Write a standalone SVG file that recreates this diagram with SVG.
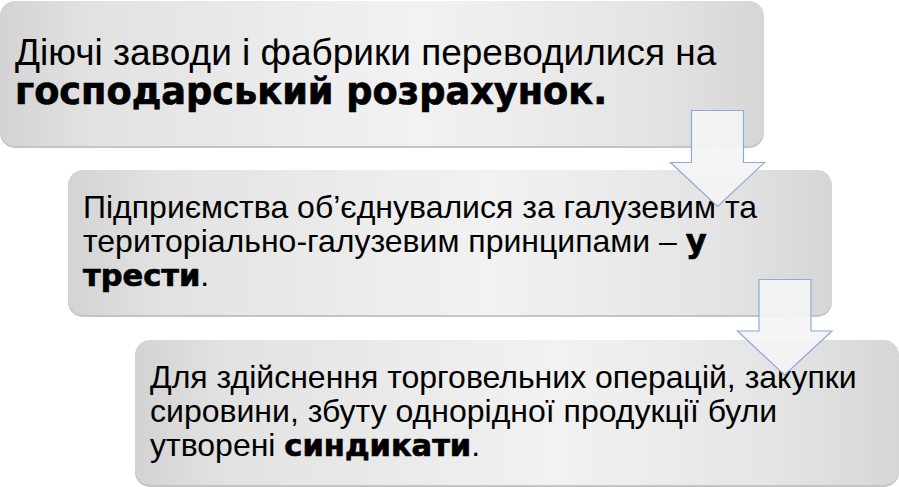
<svg xmlns="http://www.w3.org/2000/svg" width="899" height="487" viewBox="0 0 899 487">
<defs>
<linearGradient id="g" x1="0" y1="0" x2="1" y2="0">
<stop offset="0" stop-color="#d3d3d3"/>
<stop offset="0.12" stop-color="#e2e2e2"/>
<stop offset="0.55" stop-color="#f2f2f2"/>
<stop offset="0.85" stop-color="#e4e4e4"/>
<stop offset="1" stop-color="#d6d6d6"/>
</linearGradient>
<style>
.box{fill:url(#g)}
.sh{fill:#c4c4c4}
.t{font-family:"Liberation Sans",Arial,sans-serif;fill:#000}
.b{font-family:"DejaVu Sans","Liberation Sans",sans-serif;font-weight:bold;stroke:#000;stroke-width:0.7}
.arr{fill:#f4f4f4;fill-opacity:0.92;stroke:#8eaad6;stroke-width:1.2;stroke-linejoin:miter}
</style>
</defs>
<g id="node1">
<rect class="sh" x="0" y="3" width="764" height="145" rx="15"/>
<rect class="box" x="0" y="1" width="764" height="145" rx="15"/>
<text class="t" x="15" y="65" font-size="37">Діючі заводи і фабрики переводилися на</text>
<text class="t b" x="15" y="104" font-size="36.7">господарський розрахунок.</text>
</g>
<g id="node2">
<rect class="sh" x="68" y="172" width="764" height="145" rx="15"/>
<rect class="box" x="68" y="170" width="764" height="145" rx="15"/>
<text class="t" x="83" y="218" font-size="32">Підприємства об’єднувалися за галузевим та</text>
<text class="t" x="83" y="252" font-size="32">територіально-галузевим принципами – <tspan class="b">у</tspan></text>
<text class="t" x="83" y="286" font-size="32"><tspan class="b" font-size="30.5">трести</tspan>.</text>
</g>
<g id="node3">
<rect class="sh" x="135" y="342" width="764" height="145" rx="15"/>
<rect class="box" x="135" y="340" width="764" height="145" rx="15"/>
<text class="t" x="150" y="388" font-size="32">Для здійснення торговельних операцій, закупки</text>
<text class="t" x="150" y="422" font-size="32">сировини, збуту однорідної продукції були</text>
<text class="t" x="150" y="456" font-size="32">утворені <tspan class="b" font-size="30.5">синдикати</tspan>.</text>
</g>
<g id="connectors">
<path class="arr" d="M691.5 110.5 H743.5 V162.5 H764.5 L717.5 206.5 L670.5 162.5 H691.5 Z"/>
<path class="arr" d="M759 279.5 H811 V331 H832 L784.5 375 L737.5 331 H759 Z"/>
</g>
</svg>
